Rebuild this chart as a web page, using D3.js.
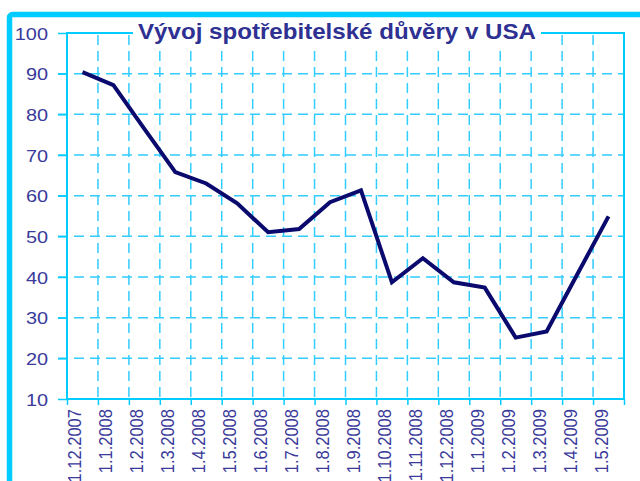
<!DOCTYPE html>
<html lang="cs">
<head>
    <meta charset="UTF-8">
    <title>Vývoj spotřebitelské důvěry v USA</title>
    <script src="https://cdn.jsdelivr.net/npm/d3@7"></script>
    <style>
        body{ margin:0; background:#fff; }
        svg{ display:block; }
    </style>
</head>
<body>
</body>
<script type="text/javascript">

    // data
    let months = ["1.12.2007","1.1.2008","1.2.2008","1.3.2008","1.4.2008","1.5.2008",
                  "1.6.2008","1.7.2008","1.8.2008","1.9.2008","1.10.2008","1.11.2008",
                  "1.12.2008","1.1.2009","1.2.2009","1.3.2009","1.4.2009","1.5.2009"];
    let confidence = [90.4, 87.2, 76.4, 65.8, 63.0, 58.1, 51.0, 51.8, 58.4, 61.3,
                      38.7, 44.6, 38.7, 37.4, 25.1, 26.6, 40.8, 54.9];
    let yTicks = [10, 20, 30, 40, 50, 60, 70, 80, 90, 100];
    let title = "Vývoj spotřebitelské důvěry v USA";

    let width = 640, height = 481;
    let plotLeft = 67, plotRight = 624, plotTop = 33, plotBottom = 399;
    let gridColor = "#33ccff";
    let axisColor = "#00ccff";
    let textColor = "#3a3a9a";

    let svg = d3.select("body")
        .append("svg")
        .attr("width", width)
        .attr("height", height);

    // outer frame
    svg.append("rect")
        .attr("x", 9.5).attr("y", 14.5)
        .attr("width", 700).attr("height", 600)
        .attr("rx", 3)
        .attr("fill", "none")
        .attr("stroke", axisColor)
        .attr("stroke-width", 5.5);

    let x = d3.scaleBand()
        .domain(months)
        .range([plotLeft, plotRight]);

    // boundaries between categories
    let xb = d3.scaleLinear()
        .domain([0, months.length])
        .range([plotLeft, plotRight]);

    let y = d3.scaleLinear()
        .domain([10, 100])
        .range([plotBottom, plotTop]);

    // horizontal grid
    svg.append("g")
        .selectAll("line")
        .data(yTicks.filter(d => d > 10 && d < 100))
        .join("line")
        .attr("x1", plotLeft - 9).attr("x2", plotRight)
        .attr("y1", d => y(d)).attr("y2", d => y(d))
        .attr("stroke", gridColor)
        .attr("stroke-width", 1.5)
        .attr("stroke-dasharray", "10,6");

    // vertical grid
    svg.append("g")
        .selectAll("line")
        .data(d3.range(1, months.length))
        .join("line")
        .attr("x1", d => xb(d)).attr("x2", d => xb(d))
        .attr("y1", plotTop).attr("y2", plotBottom)
        .attr("stroke", gridColor)
        .attr("stroke-width", 1.5)
        .attr("stroke-dasharray", "10,6")
        .attr("stroke-dashoffset", -2);

    // plot border
    svg.append("rect")
        .attr("x", plotLeft).attr("y", plotTop)
        .attr("width", plotRight - plotLeft).attr("height", plotBottom - plotTop)
        .attr("fill", "none")
        .attr("stroke", axisColor)
        .attr("stroke-width", 2);

    // y axis
    let yAxis = d3.axisLeft(y)
        .tickValues(yTicks)
        .tickSize(9)
        .tickPadding(10)
        .tickFormat(d3.format("d"));
    let yAxisGroup = svg.append("g")
        .attr("transform", `translate(${plotLeft},0)`);
    yAxis(yAxisGroup);
    yAxisGroup.select(".domain").remove();
    yAxisGroup.selectAll(".tick line")
        .attr("stroke", axisColor)
        .attr("stroke-width", 1.5);
    yAxisGroup.selectAll(".tick text")
        .attr("x", 0)
        .attr("dy", "0.36em")
        .attr("transform", "translate(-19,0) scale(1.17,1)")
        .attr("fill", textColor)
        .style("font-family", "'Liberation Sans', Arial, sans-serif")
        .style("font-size", "17px");

    // x axis ticks on the boundaries
    let xAxis = d3.axisBottom(xb)
        .tickValues(d3.range(0, months.length + 1))
        .tickSize(6)
        .tickFormat("");
    let xAxisGroup = svg.append("g")
        .attr("transform", `translate(0,${plotBottom})`);
    xAxis(xAxisGroup);
    xAxisGroup.select(".domain").remove();
    xAxisGroup.selectAll(".tick line")
        .attr("stroke", axisColor)
        .attr("stroke-width", 1.5);

    // x labels, rotated
    svg.append("g")
        .selectAll("text")
        .data(months)
        .join("text")
        .attr("transform", d => `translate(${x(d) + x.bandwidth() / 2 - 1},${plotBottom + 10}) rotate(-90) scale(0.87,1)`)
        .attr("text-anchor", "end")
        .attr("fill", textColor)
        .style("font-family", "'Liberation Sans', Arial, sans-serif")
        .style("font-size", "19px")
        .text(d => d);

    // title with white background
    svg.append("rect")
        .attr("x", 133).attr("y", 18)
        .attr("width", 408).attr("height", 30)
        .attr("fill", "#fff");
    svg.append("text")
        .attr("x", 337).attr("y", 39)
        .attr("text-anchor", "middle")
        .attr("textLength", 398)
        .attr("lengthAdjust", "spacingAndGlyphs")
        .attr("fill", "#2e3192")
        .style("font-family", "'Liberation Sans', Arial, sans-serif")
        .style("font-weight", "bold")
        .style("font-size", "21.5px")
        .text(title);

    // line
    let line = d3.line()
        .x((d, i) => x(months[i]) + x.bandwidth() / 2)
        .y(d => y(d));
    svg.append("path")
        .datum(confidence)
        .attr("fill", "none")
        .attr("stroke", "#0a0a6e")
        .attr("stroke-width", 4)
        .attr("stroke-linejoin", "miter")
        .attr("d", line);

</script>
</html>
